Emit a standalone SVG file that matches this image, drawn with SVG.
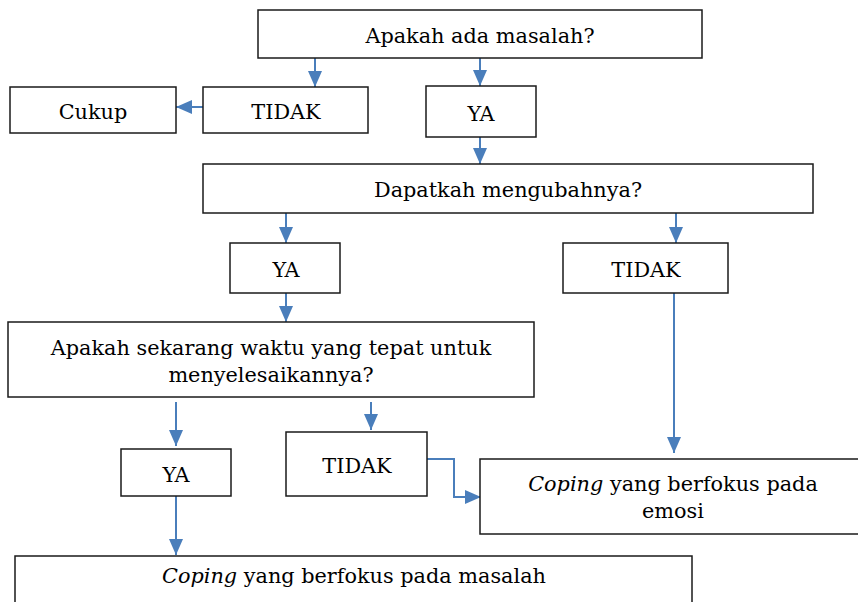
<svg xmlns="http://www.w3.org/2000/svg" width="858" height="602" viewBox="0 0 858 602">
  <style>
    .box { fill: #ffffff; stroke: #1a1a1a; stroke-width: 1.5; }
    .lbl { font-family: "DejaVu Serif", "Liberation Serif", serif; font-size: 20.8px; fill: #000000; text-anchor: middle; }
    .conn { fill: none; stroke: #4a7ebb; stroke-width: 2; marker-end: url(#head); }
  </style>
  <defs>
    <marker id="head" viewBox="0 0 16 14" refX="16" refY="7" markerWidth="16" markerHeight="14" markerUnits="userSpaceOnUse" orient="auto">
      <path d="M0,0 L16,7 L0,14 Z" fill="#4a7ebb"/>
    </marker>
  </defs>
  <rect width="858" height="602" fill="#ffffff"/>

  <g id="connectors">
    <path class="conn" d="M315,58 V87"/>
    <path class="conn" d="M480,58 V86"/>
    <path class="conn" d="M203,107 H176"/>
    <path class="conn" d="M480,137 V164"/>
    <path class="conn" d="M286,213 V243"/>
    <path class="conn" d="M676,213 V243"/>
    <path class="conn" d="M286,293 V322"/>
    <path class="conn" d="M674,293 V453"/>
    <path class="conn" d="M176,402 V446"/>
    <path class="conn" d="M371,402 V430"/>
    <path class="conn" d="M427,459 H454 V497 H481"/>
    <path class="conn" d="M176,496 V555"/>
  </g>

  <g id="q-masalah">
    <rect class="box" x="258" y="10" width="444" height="48"/>
    <text class="lbl" x="480" y="43">Apakah ada masalah?</text>
  </g>
  <g id="cukup">
    <rect class="box" x="10" y="87" width="166" height="46"/>
    <text class="lbl" x="93" y="119">Cukup</text>
  </g>
  <g id="tidak-1">
    <rect class="box" x="203" y="87" width="165" height="46"/>
    <text class="lbl" x="286" y="119">TIDAK</text>
  </g>
  <g id="ya-1">
    <rect class="box" x="426" y="86" width="110" height="51"/>
    <text class="lbl" x="481" y="121">YA</text>
  </g>
  <g id="q-ubah">
    <rect class="box" x="203" y="164" width="610" height="49"/>
    <text class="lbl" x="508" y="197">Dapatkah mengubahnya?</text>
  </g>
  <g id="ya-2">
    <rect class="box" x="230" y="243" width="110" height="50"/>
    <text class="lbl" x="286" y="277">YA</text>
  </g>
  <g id="tidak-2">
    <rect class="box" x="563" y="243" width="165" height="50"/>
    <text class="lbl" x="646" y="277">TIDAK</text>
  </g>
  <g id="q-waktu">
    <rect class="box" x="8" y="322" width="526" height="75"/>
    <text class="lbl" x="271" y="355">Apakah sekarang waktu yang tepat untuk</text>
    <text class="lbl" x="271" y="382">menyelesaikannya?</text>
  </g>
  <g id="ya-3">
    <rect class="box" x="121" y="449" width="110" height="47"/>
    <text class="lbl" x="176" y="482">YA</text>
  </g>
  <g id="tidak-3">
    <rect class="box" x="286" y="432" width="141" height="64"/>
    <text class="lbl" x="357" y="473">TIDAK</text>
  </g>
  <g id="coping-emosi">
    <rect class="box" x="480" y="459" width="390" height="75"/>
    <text class="lbl" x="673" y="491"><tspan font-style="italic">Coping</tspan> yang berfokus pada</text>
    <text class="lbl" x="673" y="518">emosi</text>
  </g>
  <g id="coping-masalah">
    <rect class="box" x="15" y="556" width="677" height="60"/>
    <text class="lbl" x="354" y="583"><tspan font-style="italic">Coping</tspan> yang berfokus pada masalah</text>
  </g>
</svg>
